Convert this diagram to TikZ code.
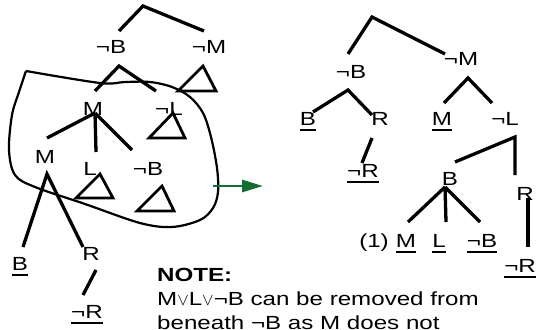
\documentclass[tikz,border=0pt]{standalone}
\usepackage{fontspec}
\setmainfont{Liberation Sans}[FakeStretch=1.27]
\usetikzlibrary{arrows.meta}
\definecolor{arrowgreen}{RGB}{20,110,50}
\tikzset{
 lbl/.style={inner sep=0pt, anchor=base, font=\fontsize{19}{24}\selectfont},
 notetxt/.style={inner sep=0pt, anchor=base west, font=\fontsize{19}{24}\selectfont},
 branch/.style={line width=3.3pt},
 tri/.style={line width=2.8pt, line join=miter},
 lasso/.style={line width=2.2pt},
 ulstyle/.style={line width=1.2pt},
 garrow/.style={line width=2.8pt, draw=arrowgreen, -{Triangle[length=21pt,width=12pt]}}
}
\newcommand\ulnode[1]{\draw[ulstyle] ([yshift=-5pt]#1.base west) -- ([yshift=-5pt]#1.base east);}
\begin{document}
\begin{tikzpicture}[x=1pt,y=-1pt]
\useasboundingbox (0,0) rectangle (537,329);
\clip (0,0) rectangle (537,329);

% ---------------- left tree ----------------
\node[lbl] (lnB) at (111,53) {¬B};
\node[lbl] (lnM) at (209,53) {¬M};
\node[lbl] (lM) at (93,115) {M};
\node[lbl] (lnL) at (169,115) {¬L};
\node[lbl] (lM3) at (45,163) {M};
\node[lbl] (lL) at (90,175) {L};
\node[lbl] (lnB3) at (148,175) {¬B};
\node[lbl] (lB) at (20,270) {B};
\node[lbl] (lR) at (91,260) {R};
\node[lbl] (lnR) at (87,318) {¬R};
\ulnode{lB}
\ulnode{lnR}

\coordinate (la) at (143,6);
\coordinate (la1) at (119,31);
\coordinate (la2) at (204,31);
\draw[branch] (la1) -- (la) -- (la2);

\coordinate (lb) at (119,66);
\coordinate (lb1) at (95,91);
\coordinate (lb2) at (156,91);
\draw[branch] (lb1) -- (lb) -- (lb2);

\coordinate (lm) at (95,113);
\coordinate (lm1) at (47,138);
\coordinate (lm2) at (96,152);
\coordinate (lm3) at (132,150);
\draw[branch] (lm) -- (lm1);
\draw[branch] (lm) -- (lm2);
\draw[branch] (lm) -- (lm3);

\coordinate (lk) at (47,174);
\coordinate (lk1) at (23,247);
\coordinate (lk2) at (83,247);
\draw[branch] (lk1) -- (lk) -- (lk2);

\coordinate (lr1) at (96,270);
\coordinate (lr2) at (83,295);
\draw[branch] (lr1) -- (lr2);

% triangles
\draw[tri] (203,66) -- (178,91) -- (216,91) -- cycle;
\draw[tri] (173,113) -- (149,138) -- (185,138) -- cycle;
\draw[tri] (100,174) -- (76,198) -- (113,198) -- cycle;
\draw[tri] (162,186) -- (137,211) -- (174,211) -- cycle;

% lasso
\draw[lasso] plot[smooth, tension=0.55] coordinates {(26,71) (100,83) (125,82) (150,82) (172,87) (190,97) (203,113) (211,137) (217,168) (218,192) (213,208) (200,220) (172,227) (140,223) (85,204) (35,187) (15,175) (9,150) (12,115) (19,92) (26,71)};

% green arrow
\coordinate (ga) at (213,186);
\coordinate (gb) at (263,186);
\draw[garrow] (ga) -- (gb);

% ---------------- right tree ----------------
\node[lbl] (rnB) at (351,78) {¬B};
\node[lbl] (rnM) at (461,65) {¬M};
\node[lbl] (rB) at (308,125) {B};
\node[lbl] (rR) at (380,125) {R};
\node[lbl] (rnR) at (363,177) {¬R};
\node[lbl] (rM) at (442,125) {M};
\node[lbl] (rnL) at (505,125) {¬L};
\node[lbl] (rB2) at (450,185) {B};
\node[lbl] (rR2) at (525,200) {R};
\node[lbl] (rone) at (374,247) {(1)};
\node[lbl] (rM3) at (406,247) {M};
\node[lbl] (rL3) at (439,247) {L};
\node[lbl] (rnB3) at (482,247) {¬B};
\node[lbl] (rnR2) at (520,272) {¬R};
\ulnode{rB}
\ulnode{rnR}
\ulnode{rM}
\ulnode{rM3}
\ulnode{rL3}
\ulnode{rnB3}
\ulnode{rnR2}

\coordinate (ra) at (372,17);
\coordinate (ra1) at (348,54);
\coordinate (ra2) at (445,54);
\draw[branch] (ra1) -- (ra) -- (ra2);

\coordinate (rb) at (348,90);
\coordinate (rb1) at (313,112);
\coordinate (rb2) at (372,115);
\draw[branch] (rb1) -- (rb) -- (rb2);

\coordinate (rr1) at (372,138);
\coordinate (rr2) at (362,163);
\draw[branch] (rr1) -- (rr2);

\coordinate (rc) at (468,78);
\coordinate (rc1) at (444,103);
\coordinate (rc2) at (492,103);
\draw[branch] (rc1) -- (rc) -- (rc2);

\coordinate (rl) at (515,137);
\coordinate (rl1) at (455,162);
\coordinate (rl2) at (515,175);
\draw[branch] (rl1) -- (rl) -- (rl2);

\coordinate (rd) at (445,187);
\coordinate (rd1) at (408,222);
\coordinate (rd2) at (446,222);
\coordinate (rd3) at (480,222);
\draw[branch] (rd) -- (rd1);
\draw[branch] (rd) -- (rd2);
\draw[branch] (rd) -- (rd3);

\coordinate (re1) at (528,198);
\coordinate (re2) at (528,247);
\draw[branch] (re1) -- (re2);

% ---------------- note ----------------
\node[notetxt, font=\fontsize{19}{24}\selectfont\bfseries] (n1) at (157,281) {NOTE:};
\node[notetxt] (n2) at (157,305) {M$\vee$L$\vee$¬B can be removed from};
\node[notetxt] (n3) at (157,329) {beneath ¬B as M does not};
\end{tikzpicture}
\end{document}
